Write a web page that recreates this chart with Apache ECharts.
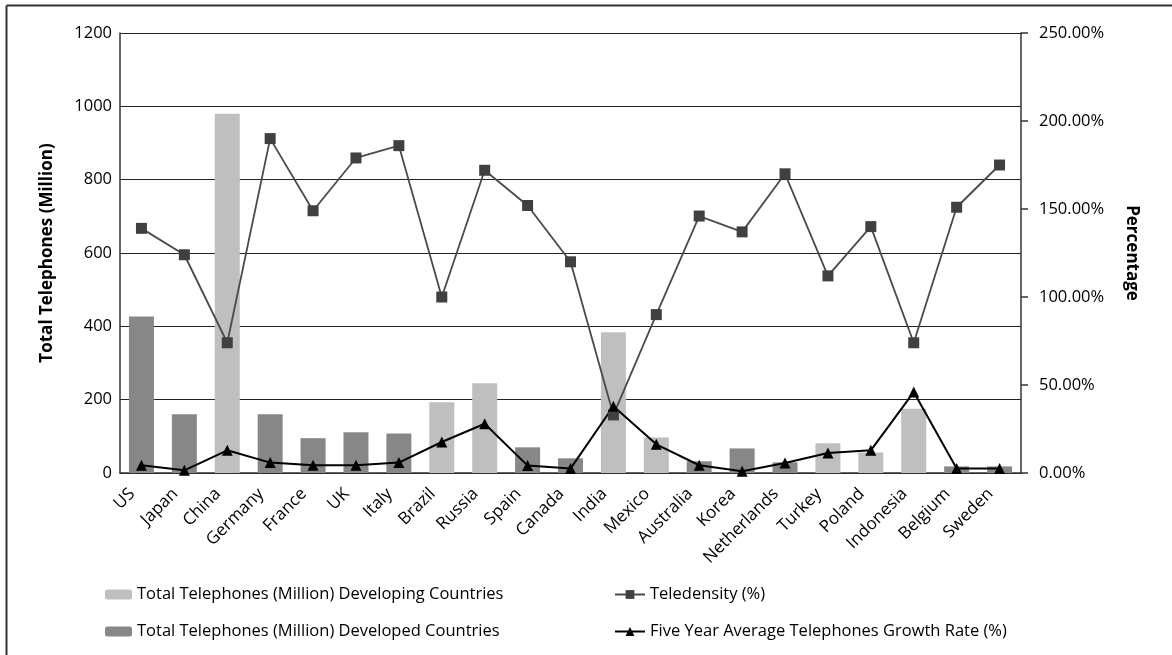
<!DOCTYPE html>
<html>
<head>
<meta charset="utf-8">
<script src="https://cdn.jsdelivr.net/npm/echarts@6/dist/echarts.min.js"></script>
<style>
  html, body { margin: 0; padding: 0; background: #fff; }
  #chart { width: 1172px; height: 655px; }
</style>
</head>
<body>
<div id="chart"></div>
<script>
// Countries along the category axis
const countries = ['US', 'Japan', 'China', 'Germany', 'France', 'UK', 'Italy', 'Brazil', 'Russia', 'Spain', 'Canada',
  'India', 'Mexico', 'Australia', 'Korea', 'Netherlands', 'Turkey', 'Poland', 'Indonesia', 'Belgium', 'Sweden'];

// Total telephones (million); '-' where the country belongs to the other group
const developingTotals = ['-', '-', 980, '-', '-', '-', '-', 193, 245, '-', '-',
  384, 97, '-', '-', '-', 81, 56, 175, '-', '-'];
const developedTotals = [427, 160, '-', 160, 95, 111, 108, '-', '-', 70, 40,
  '-', '-', 32, 67, 29, '-', '-', '-', 18, 18];

// Teledensity (%)
const teledensity = [139, 124, 74, 190, 149, 179, 186, 100, 172, 152, 120,
  33, 90, 146, 137, 170, 112, 140, 74, 151, 175];

// Five year average telephones growth rate (%)
const growthRate = [4.4, 1.5, 12.9, 5.9, 4.4, 4.4, 5.9, 17.6, 28, 4.2, 2.5,
  37.9, 16.3, 4.4, 1, 5.7, 11.4, 12.9, 46, 2.5, 2.5];

const leftTicks = { min: 0, max: 1200, interval: 200 };
const rightTicks = { min: 0, max: 250, interval: 50 };

const FONT = 'Open Sans';
const FS = 16.5;
const chart = echarts.init(document.getElementById('chart'));

chart.setOption({
  backgroundColor: '#fff',
  animation: false,
  textStyle: { fontFamily: FONT, color: '#000' },
  graphic: [
    { type: 'line', shape: { x1: 6.5, y1: 5.5, x2: 6.5, y2: 655 }, style: { stroke: '#333', lineWidth: 2 } },
    { type: 'line', shape: { x1: 6.5, y1: 5.5, x2: 1172, y2: 5.5 }, style: { stroke: '#333', lineWidth: 2 } }
  ],
  grid: { left: 120, right: 151, top: 33, bottom: 182 },
  legend: [
    {
      orient: 'vertical', left: 100, top: 581, itemGap: 20,
      itemWidth: 27, itemHeight: 10,
      textStyle: { fontFamily: FONT, fontSize: FS, color: '#000' },
      data: ['Total Telephones (Million) Developing Countries', 'Total Telephones (Million) Developed Countries']
    },
    {
      orient: 'vertical', left: 609, top: 581, itemGap: 20,
      itemWidth: 30, itemHeight: 11,
      textStyle: { fontFamily: FONT, fontSize: FS, color: '#000' },
      data: ['Teledensity (%)', 'Five Year Average Telephones Growth Rate (%)']
    }
  ],
  xAxis: {
    type: 'category',
    data: countries,
    axisLine: { lineStyle: { color: '#333', width: 1.5 } },
    axisTick: { show: false },
    axisLabel: { rotate: 45, fontSize: 17, color: '#000', margin: 9, interval: 0, padding: [0, 13, 0, 0] }
  },
  yAxis: [
    {
      type: 'value',
      min: leftTicks.min, max: leftTicks.max, interval: leftTicks.interval,
      name: 'Total Telephones (Million)',
      nameLocation: 'middle', nameRotate: 90, nameGap: 64,
      nameTextStyle: { fontWeight: 'bold', fontSize: 17, color: '#000' },
      axisLine: { show: true, lineStyle: { color: '#333', width: 1.5 } },
      axisTick: { show: false },
      axisLabel: { fontSize: FS, color: '#000', margin: 8, formatter: v => String(v) },
      splitLine: { lineStyle: { color: '#222', width: 1.2 } }
    },
    {
      type: 'value',
      min: rightTicks.min, max: rightTicks.max, interval: rightTicks.interval,
      name: 'Percentage',
      nameLocation: 'middle', nameRotate: -90, nameGap: 102,
      nameTextStyle: { fontWeight: 'bold', fontSize: 17, color: '#000' },
      axisLine: { show: true, lineStyle: { color: '#333', width: 1.5 } },
      axisTick: { show: true, length: 7, lineStyle: { color: '#333', width: 1.5 } },
      axisLabel: { fontSize: FS, color: '#000', margin: 18, formatter: v => v.toFixed(2) + '%' },
      splitLine: { show: false }
    }
  ],
  series: [
    {
      name: 'Total Telephones (Million) Developing Countries',
      type: 'bar', stack: 'total', yAxisIndex: 0, barWidth: 25,
      itemStyle: { color: '#bfbfbf' },
      data: developingTotals
    },
    {
      name: 'Total Telephones (Million) Developed Countries',
      type: 'bar', stack: 'total', yAxisIndex: 0, barWidth: 25,
      itemStyle: { color: '#878787' },
      data: developedTotals
    },
    {
      name: 'Teledensity (%)',
      type: 'line', yAxisIndex: 1,
      symbol: 'rect', symbolSize: 11,
      lineStyle: { color: '#4a4a4a', width: 1.8 },
      itemStyle: { color: '#404040' },
      data: teledensity
    },
    {
      name: 'Five Year Average Telephones Growth Rate (%)',
      type: 'line', yAxisIndex: 1,
      symbol: 'triangle', symbolSize: 11,
      lineStyle: { color: '#000', width: 2 },
      itemStyle: { color: '#000' },
      data: growthRate
    }
  ]
});
</script>
</body>
</html>
